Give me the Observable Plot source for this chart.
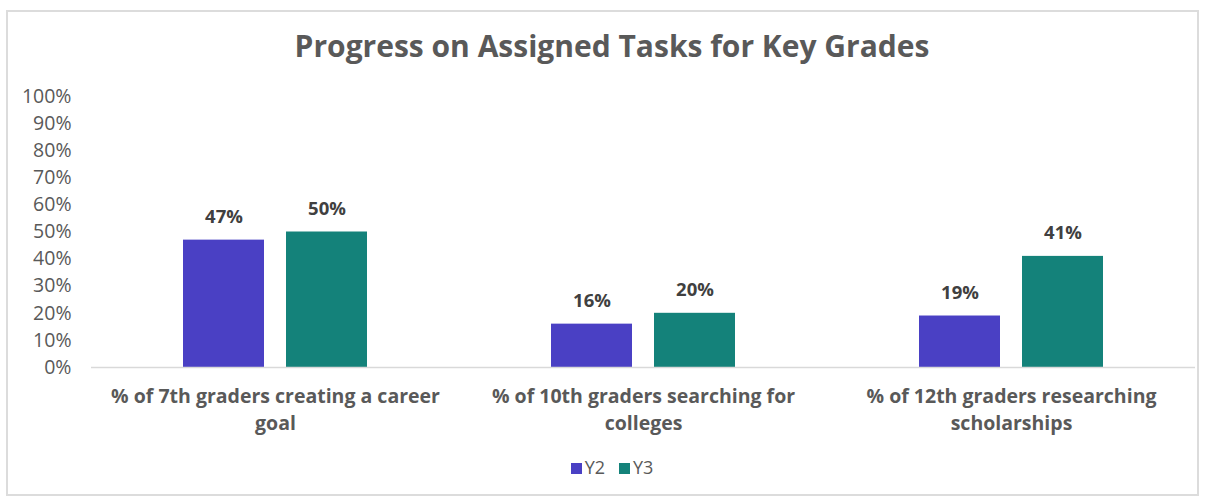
<!DOCTYPE html>
<html>
<head>
<meta charset="utf-8">
<script src="https://cdn.jsdelivr.net/npm/d3@7"></script>
<script src="https://cdn.jsdelivr.net/npm/@observablehq/plot@0.6"></script>
<style>
  html, body { margin: 0; padding: 0; background: #fff; }
  body { width: 1209px; height: 496px; position: relative; overflow: hidden; font-family: "Open Sans", sans-serif; }
  #frame { position: absolute; left: 6px; top: 10px; width: 1193px; height: 486px; border: 2px solid #dcdcdc; box-sizing: border-box; }
  #title { position: absolute; left: 0; width: 1224px; top: 26px; text-align: center; font-size: 30px; font-weight: 700; color: #595959; line-height: 40px; }
  #chart { position: absolute; left: 0; top: 0; }
  #legend { position: absolute; top: 454px; left: 0; width: 1224px; text-align: center; font-size: 18px; color: #595959; line-height: 26px; }
  #legend span.item { display: inline-block; margin: 0 7px; }
  #legend span.sw { display: inline-block; width: 11px; height: 11px; margin-right: 3px; vertical-align: 0px; }
</style>
</head>
<body>
<div id="frame"></div>
<div id="chart"></div>
<div id="title"></div>
<div id="legend"></div>
<script>
const titleText = "Progress on Assigned Tasks for Key Grades";
const categories = [
  "% of 7th graders creating a career goal",
  "% of 10th graders searching for colleges",
  "% of 12th graders researching scholarships"
];
const categoryLabels = [
  "% of 7th graders creating a career\ngoal",
  "% of 10th graders searching for\ncolleges",
  "% of 12th graders researching\nscholarships"
];
const seriesNames = ["Y2", "Y3"];
const seriesColors = ["#4a40c4", "#14827a"];
const valuesY2 = [0.47, 0.16, 0.19];
const valuesY3 = [0.50, 0.20, 0.41];
const yTicks = [0, 0.1, 0.2, 0.3, 0.4, 0.5, 0.6, 0.7, 0.8, 0.9, 1.0];

const data = [];
categories.forEach((c, i) => {
  data.push({category: c, series: "Y2", value: valuesY2[i]});
  data.push({category: c, series: "Y3", value: valuesY3[i]});
});

document.getElementById("title").textContent = titleText;

const plot = Plot.plot({
  width: 1209,
  height: 496,
  marginTop: 96,
  marginBottom: 129,
  marginLeft: 90,
  marginRight: 14,
  style: {fontFamily: "Open Sans, sans-serif", background: "transparent"},
  fx: {domain: categories, paddingInner: 0, paddingOuter: 0, label: null},
  x: {domain: seriesNames, paddingInner: 0.21, paddingOuter: 0.875, axis: null},
  y: {domain: [0, 1], label: null},
  color: {domain: seriesNames, range: seriesColors},
  marks: [
    Plot.axisY({ticks: yTicks, tickFormat: d => Math.round(d * 100) + "%", tickSize: 0, tickPadding: 20, fontSize: 19.5, fill: "#595959", label: null}),
    Plot.axisFx({anchor: "bottom", tickSize: 0, tickPadding: 16, fontSize: 19.5, fontWeight: 700, fill: "#595959", lineHeight: 1.4, textAnchor: "middle", tickFormat: d => categoryLabels[categories.indexOf(d)], label: null}),
    Plot.barY(data, {fx: "category", x: "series", y: "value", fill: "series"}),
    Plot.ruleY([0], {stroke: "#d9d9d9", strokeWidth: 1.5}),
    Plot.text(data, {fx: "category", x: "series", y: "value", text: d => Math.round(d.value * 100) + "%", dy: -23, fontSize: 18.5, fontWeight: 700, fill: "#404040"})
  ]
});
document.getElementById("chart").appendChild(plot);

const legend = document.getElementById("legend");
seriesNames.forEach((s, i) => {
  const item = document.createElement("span");
  item.className = "item";
  const sw = document.createElement("span");
  sw.className = "sw";
  sw.style.background = seriesColors[i];
  item.appendChild(sw);
  item.appendChild(document.createTextNode(s));
  legend.appendChild(item);
});
</script>
</body>
</html>
